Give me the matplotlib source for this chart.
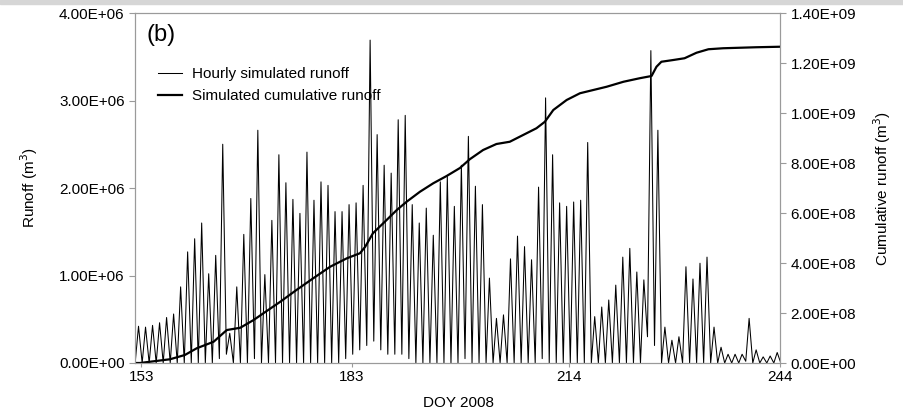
import numpy as np
import matplotlib.pyplot as plt
from matplotlib.patches import Rectangle

plt.rcParams['font.family'] = ['Liberation Sans', 'DejaVu Sans']

# daily peak of hourly simulated runoff (1e6 m3), DOY 152..243
first_day = 152
peak_runoff = [
    0.42, 0.41, 0.43, 0.46, 0.52, 0.56, 0.87, 1.27, 1.42, 1.60,   # 152-161
    1.02, 1.23, 2.50, 0.34, 0.87, 1.47, 1.88, 2.66, 1.01, 1.63,   # 162-171
    2.38, 2.06, 1.87, 1.71, 2.41, 1.86, 2.07, 2.03, 1.73, 1.73,   # 172-181
    1.81, 1.83, 2.03, 3.69, 2.61, 2.26, 2.17, 2.78, 2.83, 1.81,   # 182-191
    1.60, 1.77, 1.46, 2.07, 2.13, 1.79, 2.26, 2.59, 2.02, 1.81,   # 192-201
    0.97, 0.51, 0.55, 1.19, 1.45, 1.33, 1.18, 2.01, 3.03, 2.38,   # 202-211
    1.83, 1.79, 1.84, 1.86, 2.52, 0.53, 0.64, 0.72, 0.89, 1.21,   # 212-221
    1.31, 1.04, 0.95, 3.57, 2.66, 0.41, 0.26, 0.30, 1.10, 0.96,   # 222-231
    1.14, 1.21, 0.41, 0.18, 0.10, 0.10, 0.10, 0.51, 0.15, 0.07,   # 232-241
    0.08, 0.12,                                                   # 242-243
]
# night-time minimum of hourly runoff (1e6 m3)
trough_runoff = [
    0.00, 0.00, 0.00, 0.00, 0.00, 0.00, 0.00, 0.00, 0.00, 0.00,
    0.00, 0.00, 0.05, 0.10, 0.00, 0.00, 0.00, 0.05, 0.00, 0.00,
    0.00, 0.00, 0.00, 0.00, 0.00, 0.00, 0.00, 0.00, 0.00, 0.00,
    0.05, 0.10, 0.15, 0.20, 0.25, 0.15, 0.10, 0.10, 0.10, 0.05,
    0.00, 0.00, 0.00, 0.00, 0.00, 0.00, 0.00, 0.05, 0.00, 0.00,
    0.00, 0.00, 0.00, 0.00, 0.00, 0.00, 0.00, 0.00, 0.05, 0.00,
    0.00, 0.00, 0.00, 0.00, 0.00, 0.00, 0.00, 0.00, 0.00, 0.00,
    0.00, 0.00, 0.00, 0.30, 0.20, 0.00, 0.00, 0.00, 0.00, 0.00,
    0.00, 0.00, 0.00, 0.00, 0.00, 0.00, 0.00, 0.02, 0.00, 0.00,
    0.00, 0.00,
]

# simulated cumulative runoff (1e8 m3) read at these DOY
cum_doy = [152.2, 152.8, 157.1, 159.2, 160.9, 163.3, 164.9, 165.2, 167.1, 169.0,
           170.4, 172.8, 175.1, 177.5, 179.9, 182.3, 184.15, 184.9, 186.0, 187.95,
           189.4, 190.8, 192.7, 194.6, 196.5, 198.4, 199.8, 201.7, 203.6, 205.5,
           207.4, 209.3, 210.5, 211.7, 213.6, 215.5, 217.4, 219.3, 221.7, 224.0,
           225.7, 226.4, 227.1, 228.8, 230.4, 232.1, 233.8, 235.9, 240.6, 243.9]
cum_runoff = [0.0, 0.0, 0.15, 0.32, 0.59, 0.85, 1.25, 1.32, 1.41, 1.72,
              1.99, 2.45, 2.92, 3.39, 3.85, 4.19, 4.39, 4.65, 5.19, 5.72,
              6.12, 6.45, 6.85, 7.19, 7.48, 7.80, 8.15, 8.52, 8.76, 8.85,
              9.12, 9.39, 9.65, 10.12, 10.52, 10.79, 10.92, 11.05, 11.25, 11.39,
              11.48, 11.85, 12.05, 12.12, 12.19, 12.41, 12.55, 12.59, 12.63, 12.65]

x_ticks = [153, 183, 214, 244]

# hourly line drawn through the read night minima and daily peaks
hx, hy = [], []
for i, (p, t) in enumerate(zip(peak_runoff, trough_runoff)):
    d = first_day + i
    hx += [d + 0.12, d + 0.6]
    hy += [t * 1e6, p * 1e6]
hx.append(first_day + len(peak_runoff) + 0.12)
hy.append(0.0)

fig = plt.figure(figsize=(9.04, 4.12), dpi=100)
fig.patches.append(Rectangle((0, 1 - 4 / 412), 1, 4 / 412, transform=fig.transFigure,
                             color='#d6d6d6', zorder=0))
ax = fig.add_axes([135 / 904, 1 - 363 / 412, 645 / 904, 350 / 412])
ax2 = ax.twinx()

l1, = ax.plot(hx, hy, color='black', lw=0.75, label='Hourly simulated runoff')
l2, = ax2.plot(cum_doy, np.array(cum_runoff) * 1e8, color='black', lw=1.6,
               label='Simulated cumulative runoff')

ax.set_xlim(152.1, 244)
ax.set_ylim(0, 4e6)
ax2.set_ylim(0, 1.4e9)
ax.set_xticks(x_ticks)
ax.set_yticks(np.arange(0, 4.01e6, 1e6))
ax2.set_yticks(np.arange(0, 1.41e9, 2e8))
ax.yaxis.set_major_formatter(plt.FormatStrFormatter('%.2E'))
ax2.yaxis.set_major_formatter(plt.FormatStrFormatter('%.2E'))

for a in (ax, ax2):
    for s in a.spines.values():
        s.set_color('#9a9a9a')
        s.set_linewidth(0.8)
    a.tick_params(colors='#9a9a9a', labelcolor='black', labelsize=11,
                  length=4, width=0.8, direction='out')
ax.tick_params(axis='x', length=3, pad=2)

ax.set_xlabel('DOY 2008', fontsize=11)
ax.set_ylabel('Runoff (m$^3$)', fontsize=11)
ax2.set_ylabel('Cumulative runoff (m$^3$)', fontsize=11)
ax.xaxis.set_label_coords(0.5008, -0.095)
ax.yaxis.set_label_coords(-0.147, 0.5)
ax2.yaxis.set_label_coords(1.141, 0.5)

ax.text(0.018, 0.937, '(b)', transform=ax.transAxes, fontsize=17, va='center')
ax2.legend(handles=[l1, l2], loc='upper left', bbox_to_anchor=(0.0357, 0.845),
           frameon=False, fontsize=11, borderpad=0, handlelength=1.6,
           handletextpad=0.6, labelspacing=0.5, borderaxespad=0)

fig.savefig('out.png', dpi=100)
